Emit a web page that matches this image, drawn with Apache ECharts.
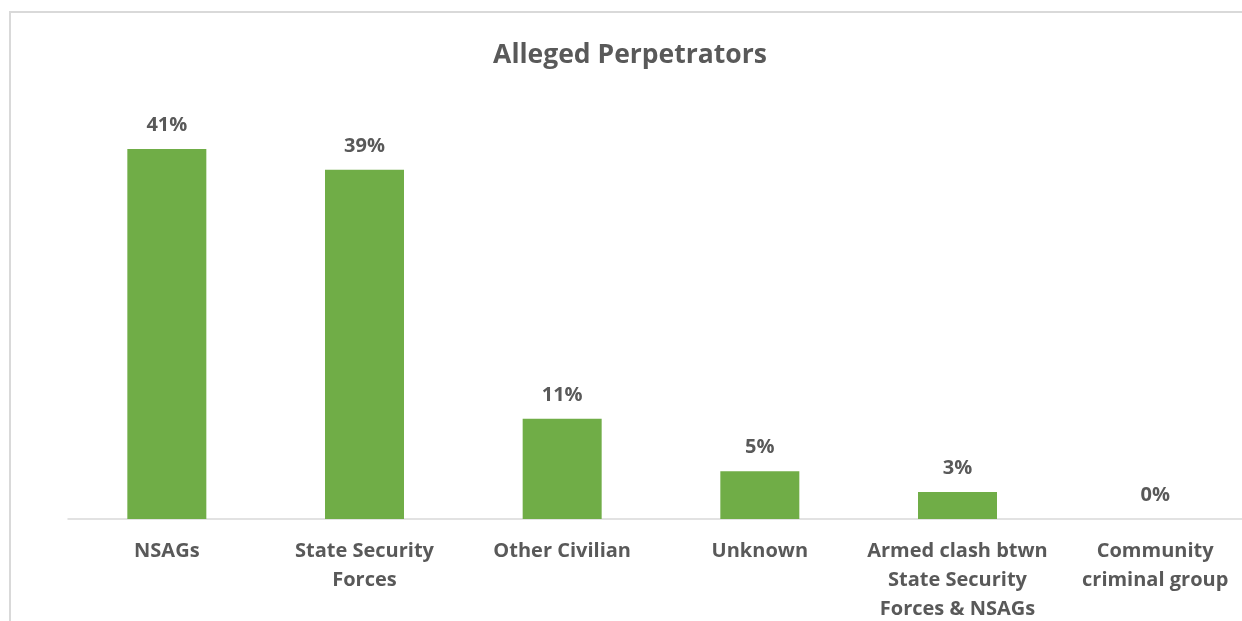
<!DOCTYPE html>
<html>
<head>
<meta charset="utf-8">
<script src="https://cdn.jsdelivr.net/npm/echarts@6/dist/echarts.min.js"></script>
<style>
  html, body { margin: 0; padding: 0; background: #fff; }
  #chart { width: 1242px; height: 621px; }
</style>
</head>
<body>
<div id="chart"></div>
<script>
// data
var categories = ['NSAGs', 'State Security\nForces', 'Other Civilian', 'Unknown', 'Armed clash btwn\nState Security\nForces & NSAGs', 'Community\ncriminal group'];
var shares = [41.0, 38.7, 11.1, 5.3, 3.0, 0];

var chart = echarts.init(document.getElementById('chart'));
var font = '"Open Sans", "Noto Sans", sans-serif';

chart.setOption({
  animation: false,
  title: {
    text: 'Alleged Perpetrators',
    left: 625,
    top: 37,
    textAlign: 'center',
    textStyle: { fontFamily: font, fontSize: 26.5, fontWeight: 'bold', color: '#595959' }
  },
  graphic: [{
    type: 'rect',
    shape: { x: 10, y: 12, width: 1300, height: 700 },
    style: { fill: 'none', stroke: '#d9d9d9', lineWidth: 2 },
    silent: true
  }],
  grid: { left: 68, width: 1186, top: 113, height: 406, outerBoundsMode: 'none', containLabel: false },
  xAxis: {
    type: 'category',
    data: categories,
    axisTick: { show: false },
    axisLine: { lineStyle: { color: '#d9d9d9', width: 1.5 } },
    axisLabel: {
      interval: 0,
      margin: 18,
      fontFamily: font,
      fontSize: 20,
      fontWeight: 'bold',
      color: '#595959',
      lineHeight: 29
    }
  },
  yAxis: {
    type: 'value',
    min: 0,
    max: 45,
    show: false,
    splitLine: { show: false }
  },
  series: [{
    type: 'bar',
    data: shares,
    barWidth: 79,
    itemStyle: { color: '#70ad47' },
    label: {
      show: true,
      position: 'top',
      distance: 14,
      fontFamily: font,
      fontSize: 20,
      fontWeight: 'bold',
      color: '#595959',
      formatter: function (p) { return Math.round(p.value) + '%'; }
    }
  }]
});
</script>
</body>
</html>
